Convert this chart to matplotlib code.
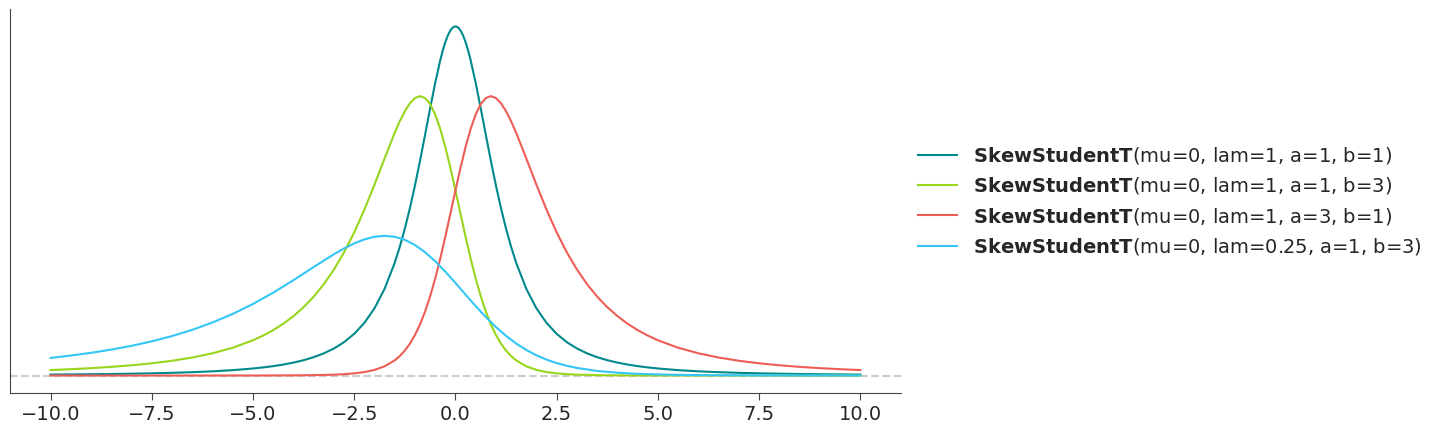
import matplotlib
matplotlib.use('Agg')
import matplotlib.pyplot as plt

# x grid for the skewed curves (finer where the curves bend)
x_vals = [-10, -9.5, -9, -8.5, -8, -7.5, -7, -6.5, -6, -5.5, -5, -4.75, -4.5, -4.25, -4, -3.75,
          -3.5, -3.25, -3, -2.75, -2.5, -2.25, -2, -1.75, -1.5, -1.375, -1.25, -1.125, -1,
          -0.875, -0.75, -0.625, -0.5, -0.375, -0.25, -0.125, 0,
          0.125, 0.25, 0.375, 0.5, 0.625, 0.75, 0.875, 1, 1.125, 1.25, 1.375, 1.5, 1.75, 2,
          2.25, 2.5, 2.75, 3, 3.25, 3.5, 3.75, 4, 4.25, 4.5, 4.75, 5, 5.5, 6, 6.5, 7, 7.5, 8,
          8.5, 9, 9.5, 10]

# mu=0, lam=1, a=1, b=1 (own grid, extra points round the sharp peak)
x_teal = [-10, -9.5, -9, -8.5, -8, -7.5, -7, -6.5, -6, -5.5, -5, -4.75, -4.5, -4.25, -4, -3.75,
          -3.5, -3.25, -3, -2.75, -2.5, -2.25, -2, -1.75, -1.5, -1.375, -1.25, -1.125, -1,
          -0.875, -0.75, -0.625, -0.5, -0.375, -0.3125, -0.25, -0.1875, -0.125, -0.0625, 0,
          0.0625, 0.125, 0.1875, 0.25, 0.3125, 0.375, 0.5, 0.625, 0.75, 0.875, 1, 1.125, 1.25,
          1.375, 1.5, 1.75, 2, 2.25, 2.5, 2.75, 3, 3.25, 3.5, 3.75, 4, 4.25, 4.5, 4.75, 5, 5.5,
          6, 6.5, 7, 7.5, 8, 8.5, 9, 9.5, 10]
teal_pdf = [0.000971, 0.001129, 0.001322, 0.001563, 0.001865, 0.002249, 0.002746, 0.003397,
            0.004269, 0.005460, 0.007128, 0.008215, 0.009528, 0.011128, 0.013095, 0.015534,
            0.018590, 0.022459, 0.027410, 0.033818, 0.042200, 0.053280, 0.068041, 0.087791,
            0.114134, 0.130308, 0.148717, 0.169453, 0.192450, 0.217426, 0.243783, 0.270537,
            0.296296, 0.319293, 0.329153, 0.337605, 0.344431, 0.349450, 0.352521, 0.353553,
            0.352521, 0.349450, 0.344431, 0.337605, 0.329153, 0.319293, 0.296296, 0.270537,
            0.243783, 0.217426, 0.192450, 0.169453, 0.148717, 0.130308, 0.114134, 0.087791,
            0.068041, 0.053280, 0.042200, 0.033818, 0.027410, 0.022459, 0.018590, 0.015534,
            0.013095, 0.011128, 0.009528, 0.008215, 0.007128, 0.005460, 0.004269, 0.003397,
            0.002746, 0.002249, 0.001865, 0.001563, 0.001322, 0.001129, 0.000971]

# mu=0, lam=1, a=1, b=3
green_pdf = [0.005548, 0.006418, 0.007475, 0.008774, 0.010383, 0.012400, 0.014957, 0.018241,
             0.022516, 0.028158, 0.035722, 0.040461, 0.046007, 0.052519, 0.060187, 0.069236,
             0.079923, 0.092545, 0.107412, 0.124814, 0.144966, 0.167885, 0.193186, 0.219831,
             0.245760, 0.257469, 0.267650, 0.275701, 0.280997, 0.282928, 0.280980, 0.274812,
             0.264317, 0.249697, 0.231452, 0.210385, 0.187500,
             0.163875, 0.140564, 0.118460, 0.098227, 0.080285, 0.064805, 0.051764, 0.040997,
             0.032256, 0.025257, 0.019714, 0.015360, 0.009320, 0.005687, 0.003508, 0.002195,
             0.001396, 0.000903, 0.000594, 0.000398, 0.000270, 0.000187, 0.000131, 0.000093,
             0.000067, 0.000049, 0.000027, 0.000016, 0.000009, 0.000006, 0.000004, 0.000002,
             0.0000016, 0.000001, 0.0000008, 0.0000005]

# mu=0, lam=1, a=3, b=1 (mirror of the a=1, b=3 curve)
red_pdf = green_pdf[::-1]

# mu=0, lam=0.25, a=1, b=3
x_blue = [-10, -9.5, -9, -8.5, -8, -7.5, -7, -6.5, -6, -5.5, -5, -4.5, -4, -3.5, -3, -2.75, -2.5,
          -2.25, -2, -1.75, -1.5, -1.25, -1, -0.75, -0.5, -0.25, 0, 0.25, 0.5, 0.75, 1, 1.25,
          1.5, 1.75, 2, 2.25, 2.5, 2.75, 3, 3.5, 4, 4.5, 5, 5.5, 6, 7, 8, 9, 10]
blue_pdf = [0.017861, 0.020231, 0.023004, 0.026260, 0.030094, 0.034618, 0.039962, 0.046273,
            0.053706, 0.062407, 0.072483, 0.083943, 0.096593, 0.109916, 0.122880, 0.128735,
            0.133825, 0.137851, 0.140499, 0.141464, 0.140490, 0.137406, 0.132159, 0.124849,
            0.115726, 0.105193, 0.093750, 0.081938, 0.070282, 0.059230, 0.049114, 0.040143,
            0.032403, 0.025882, 0.020499, 0.016128, 0.012629, 0.009857, 0.007680, 0.004660,
            0.002844, 0.001754, 0.001098, 0.000698, 0.000452, 0.000199, 0.000094, 0.000047,
            0.000025]

labels = [r"$\bf{SkewStudentT}$(mu=0, lam=1, a=1, b=1)",
          r"$\bf{SkewStudentT}$(mu=0, lam=1, a=1, b=3)",
          r"$\bf{SkewStudentT}$(mu=0, lam=1, a=3, b=1)",
          r"$\bf{SkewStudentT}$(mu=0, lam=0.25, a=1, b=3)"]
colors = ['#00898c', '#98d51c', '#ee5d55', '#33c6f6']
text_col = '#262626'

fig = plt.figure(figsize=(14.39, 4.33), dpi=100)
ax = fig.add_axes([0.007, 0.0924, 0.619, 0.887])

series = [(x_teal, teal_pdf), (x_vals, green_pdf), (x_vals, red_pdf), (x_blue, blue_pdf)]
for (xs, ys), lab, col in zip(series, labels, colors):
    ax.plot(xs, ys, color=col, lw=1.5, label=lab)

ax.axhline(0, color='#cccccc', ls='--', lw=1.5, zorder=0)

for side in ['top', 'right']:
    ax.spines[side].set_visible(False)
for side in ['left', 'bottom']:
    ax.spines[side].set_color('#444444')
ax.set_yticks([])
ax.set_xticks([-10, -7.5, -5, -2.5, 0, 2.5, 5, 7.5, 10])
ax.tick_params(axis='x', labelsize=14, labelcolor=text_col, length=5, color='#444444')

ax.legend(loc='center left', bbox_to_anchor=(1.0, 0.5), frameon=False, fontsize=14,
          handlelength=2.0, labelspacing=0.48, labelcolor=text_col)

fig.savefig('out.png', dpi=100)
